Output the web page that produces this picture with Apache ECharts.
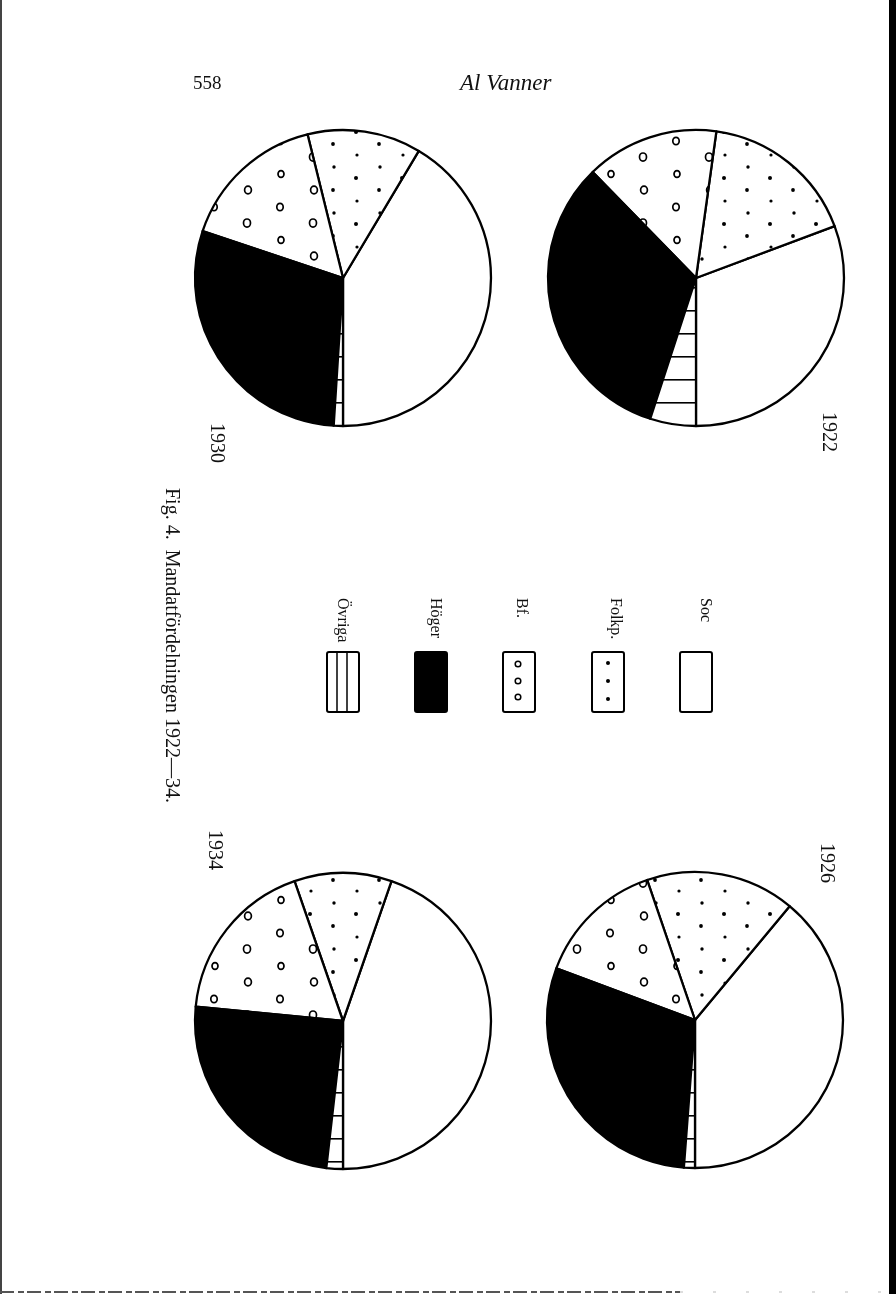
<!DOCTYPE html>
<html><head><meta charset="utf-8">
<script src="https://cdn.jsdelivr.net/npm/echarts@6/dist/echarts.min.js"></script>
<style>html,body{margin:0;padding:0;background:#fff}#c{width:896px;height:1294px}</style>
</head><body><div id="c"></div>
<script>
// ---- data (shares of seats) ----
const parties = ['Soc', 'Folkp.', 'Bf.', 'Höger', 'Övriga'];
const years = ['1922', '1926', '1930', '1934'];
const socVals    = [30.7, 39.0, 41.4, 44.6];
const folkpVals  = [17.1, 16.3, 12.4, 10.6];
const bfVals     = [14.5, 14.1, 16.0, 18.1];
const hogerVals  = [32.7, 29.5, 29.1, 24.7];
const ovrigaVals = [5.0, 1.2, 1.0, 1.8];
const captionText = 'Fig. 4.  Mandatfördelningen 1922—34.';
const pageNumber = '558';
const runningHead = 'Al Vanner';

const valueSets = [socVals, folkpVals, bfVals, hogerVals, ovrigaVals];

// ---- layout ----
const pieCenters = { '1922': [696, 278], '1926': [695, 1020], '1930': [343, 278], '1934': [343, 1021] };
const yearLabelPos = { '1922': [828, 412], '1926': [826, 843], '1930': [216, 423], '1934': [214, 830] };
const R = 148;
const SERIF = '"Liberation Serif", "DejaVu Serif", serif';

// ---- fills ----
function tile(w, h, draw) {
  const c = document.createElement('canvas');
  c.width = w; c.height = h;
  const g = c.getContext('2d');
  g.fillStyle = '#fff'; g.fillRect(0, 0, w, h);
  draw(g);
  return { image: c, repeat: 'repeat' };
}
const dotFill = tile(46, 46, g => {
  g.fillStyle = '#000';
  [[11, 6, 1.9], [35, 17, 1.6], [12, 29, 1.7], [34, 40, 2.0]].forEach(([x, y, r]) => {
    g.beginPath(); g.arc(x, y, r, 0, Math.PI * 2); g.fill();
  });
});
const ringFill = tile(66, 66, g => {
  g.strokeStyle = '#000'; g.lineWidth = 1.7;
  [[16, 9, 3.2], [49, 25, 3.5], [17, 42, 3.0], [50, 58, 3.4]].forEach(([x, y, r]) => {
    g.beginPath(); g.ellipse(x, y, r, r * 1.15, 0, 0, Math.PI * 2); g.stroke();
  });
});
const stripeFill = tile(8, 23, g => {
  g.fillStyle = '#000'; g.fillRect(0, 11, 8, 1.6);
});
const fills = ['#ffffff', dotFill, ringFill, '#000000', stripeFill];

// ---- series ----
const series = years.map((yr, i) => ({
  type: 'pie',
  center: pieCenters[yr],
  radius: [0, R],
  startAngle: 270,
  clockwise: false,
  silent: true,
  animation: false,
  avoidLabelOverlap: false,
  label: { show: false },
  labelLine: { show: false },
  itemStyle: { borderColor: '#000', borderWidth: 2.3 },
  emphasis: { disabled: true },
  data: parties.map((p, k) => ({ name: p, value: valueSets[k][i], itemStyle: { color: fills[k] } }))
}));

// ---- graphic: texts, legend, page edges ----
function vtext(x, y, text, size) {
  return {
    type: 'text', x: x, y: y, rotation: -Math.PI / 2,
    style: { text: text, font: size + 'px ' + SERIF, fill: '#111',
      textAlign: 'left', textVerticalAlign: 'middle', align: 'left', verticalAlign: 'middle' }
  };
}
const graphics = [];
// header
graphics.push({ type: 'text', x: 193, y: 84, style: { text: pageNumber, font: '19px ' + SERIF, fill: '#111', textVerticalAlign: 'middle', verticalAlign: 'middle' } });
graphics.push({ type: 'text', x: 460, y: 84, style: { text: runningHead, font: 'italic 23px ' + SERIF, fill: '#111', textVerticalAlign: 'middle', verticalAlign: 'middle' } });
// year labels
years.forEach(yr => graphics.push(vtext(yearLabelPos[yr][0], yearLabelPos[yr][1], yr, 20)));
// caption
graphics.push(vtext(171, 488, captionText, 20));
// legend
const legendX = [680, 592, 503, 415, 327];
const legendTextX = [705, 615, 521, 435, 342];
const legendTop = 652, legendH = 60, legendW = 32;
parties.forEach((p, k) => {
  const x0 = legendX[k];
  graphics.push({ type: 'rect', shape: { x: x0, y: legendTop, width: legendW, height: legendH, r: 2 },
    style: { fill: k === 3 ? '#000' : '#fff', stroke: '#000', lineWidth: 2 } });
  if (k === 1) {
    [663, 681, 699].forEach(cy => graphics.push({ type: 'circle', shape: { cx: x0 + 16, cy: cy, r: 2 }, style: { fill: '#000' } }));
  } else if (k === 2) {
    [664, 681, 697].forEach(cy => graphics.push({ type: 'circle', shape: { cx: x0 + 15, cy: cy, r: 2.8 }, style: { fill: '#fff', stroke: '#000', lineWidth: 1.5 } }));
  } else if (k === 4) {
    [x0 + 10, x0 + 20].forEach(lx => graphics.push({ type: 'line', shape: { x1: lx, y1: legendTop, x2: lx, y2: legendTop + legendH }, style: { stroke: '#000', lineWidth: 1.5 } }));
  }
  graphics.push(vtext(legendTextX[k], 598, p, 16));
});
// page edges (scan borders)
graphics.push({ type: 'rect', shape: { x: 889, y: 0, width: 7, height: 1294 }, style: { fill: '#000' } });
graphics.push({ type: 'rect', shape: { x: 0, y: 0, width: 2, height: 1294 }, style: { fill: '#444' } });
graphics.push({ type: 'line', shape: { x1: 0, y1: 1292, x2: 680, y2: 1292 }, style: { stroke: '#555', lineWidth: 2, lineDash: [14, 4, 6, 3] } });
graphics.push({ type: 'line', shape: { x1: 680, y1: 1292, x2: 896, y2: 1292 }, style: { stroke: '#bbb', lineWidth: 1, lineDash: [3, 30] } });

const chart = echarts.init(document.getElementById('c'), null, { renderer: 'canvas' });
chart.setOption({
  backgroundColor: '#ffffff',
  animation: false,
  series: series,
  graphic: { elements: graphics }
});
</script>
</body></html>
